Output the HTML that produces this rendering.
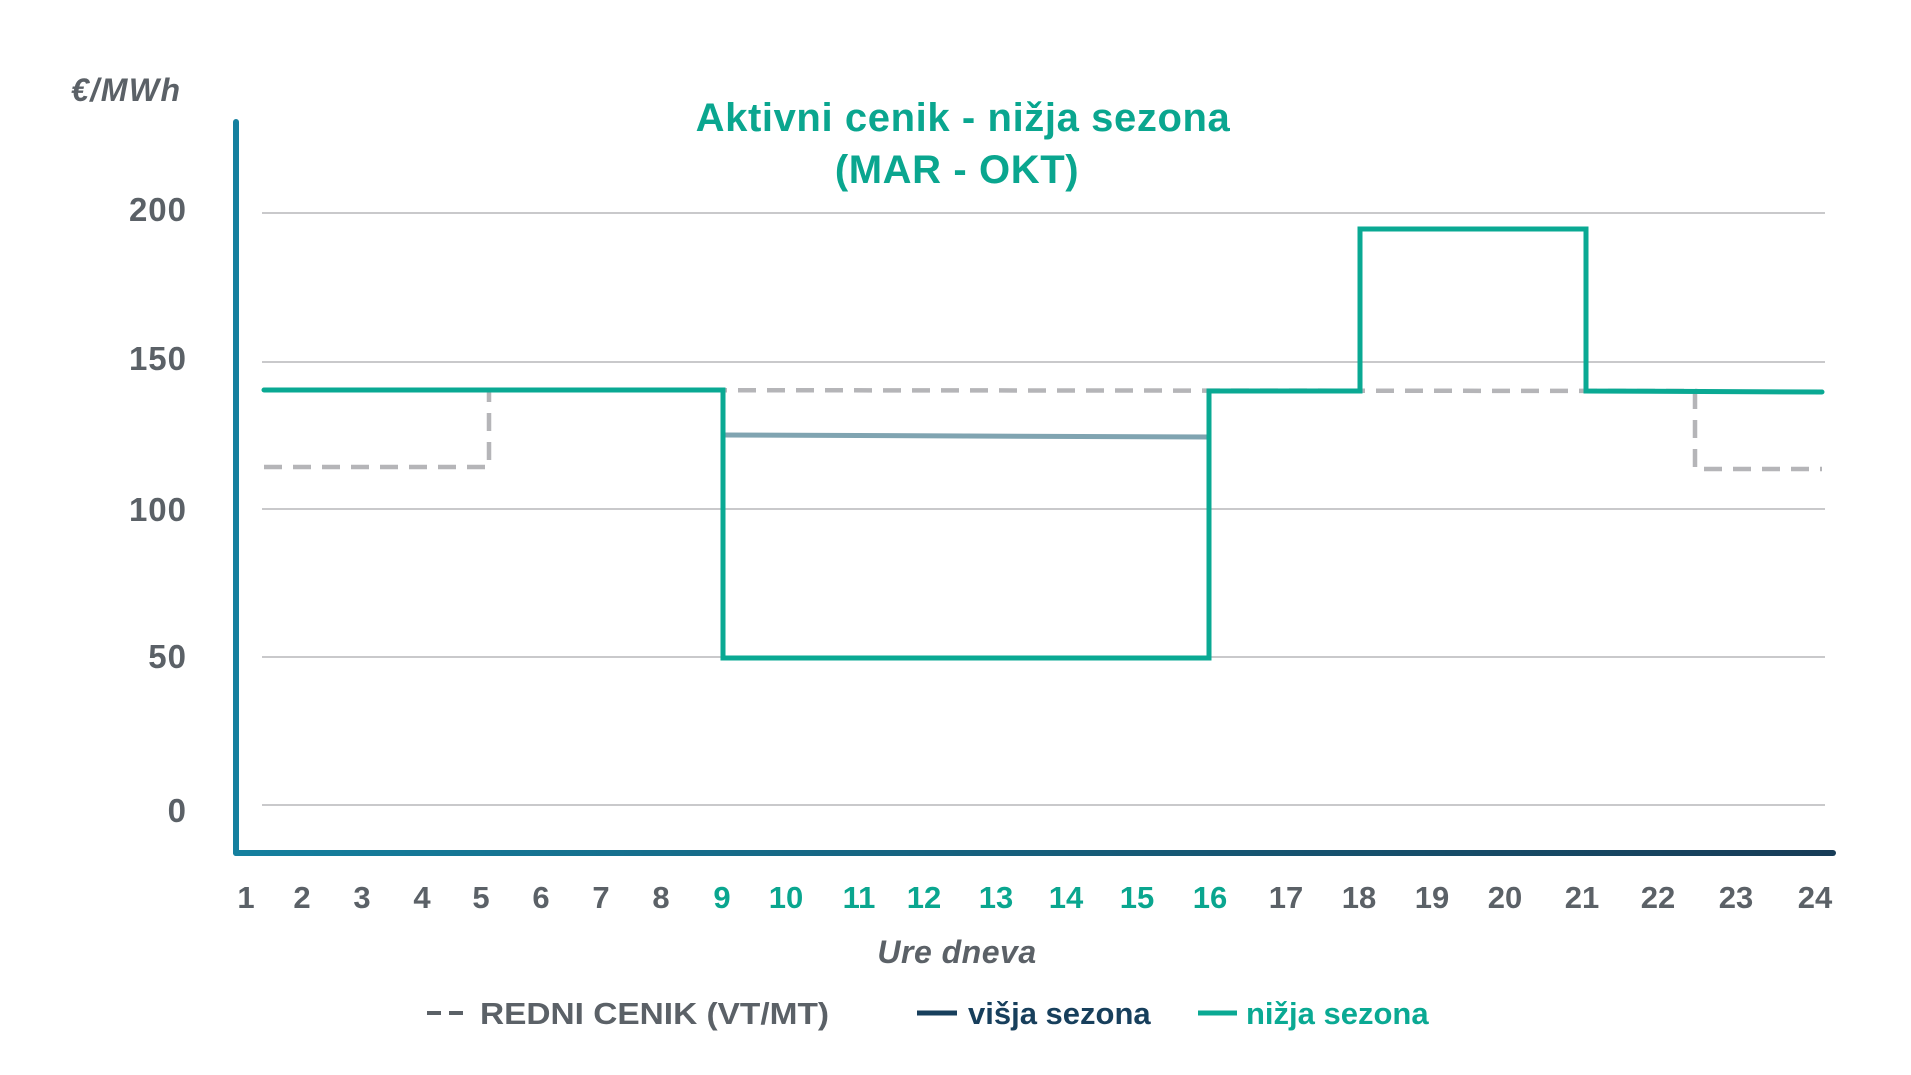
<!DOCTYPE html>
<html><head><meta charset="utf-8"><style>
html,body{margin:0;padding:0;background:#fff;}
svg{display:block;font-family:"Liberation Sans",sans-serif;}
</style></head><body>
<svg width="1911" height="1075" viewBox="0 0 1911 1075" xmlns="http://www.w3.org/2000/svg">
<defs>
<linearGradient id="ax" x1="0" x2="1" y1="0" y2="0">
<stop offset="0" stop-color="#15809f"/><stop offset="1" stop-color="#173c57"/>
</linearGradient>
</defs>
<rect width="1911" height="1075" fill="#fff"/>
<g stroke="#c9c9cb" stroke-width="2">
<line x1="262" y1="213" x2="1825" y2="213"/>
<line x1="262" y1="362" x2="1825" y2="362"/>
<line x1="262" y1="509" x2="1825" y2="509"/>
<line x1="262" y1="657" x2="1825" y2="657"/>
<line x1="262" y1="805" x2="1825" y2="805"/>
</g>
<g font-size="33" font-weight="bold" fill="#5b6167" text-anchor="end" letter-spacing="1">
<text x="187" y="221">200</text>
<text x="187" y="370">150</text>
<text x="187" y="521">100</text>
<text x="187" y="668">50</text>
<text x="187" y="822">0</text>
</g>
<text x="71" y="101" font-size="32" font-weight="bold" font-style="italic" fill="#5b6167" letter-spacing="1.5">€/MWh</text>
<g font-size="40" font-weight="bold" fill="#0aa68f" text-anchor="middle" letter-spacing="0.6">
<text x="963" y="131">Aktivni cenik - nižja sezona</text>
<text x="957" y="183">(MAR - OKT)</text>
</g>
<polyline points="264,467 489,467 489,390 1695,391 1695,469 1822,469" fill="none" stroke="#b5b5b8" stroke-width="4.5" stroke-dasharray="18,11"/>
<line x1="723" y1="435" x2="1209" y2="437" stroke="#80a4b1" stroke-width="5"/>
<polyline points="264,390 723,390 723,658 1209,658 1209,391 1360,391 1360,229 1586,229 1586,391 1822,392" fill="none" stroke="#0aa993" stroke-width="5" stroke-linejoin="miter" stroke-linecap="round"/>
<line x1="236" y1="122" x2="236" y2="853" stroke="#15809f" stroke-width="6" stroke-linecap="round"/>
<rect x="233" y="850" width="1603" height="6" fill="url(#ax)" rx="3"/>
<g font-size="31" font-weight="bold" fill="#5b6167" text-anchor="middle">
<text x="246" y="908">1</text><text x="302" y="908">2</text><text x="362" y="908">3</text><text x="422" y="908">4</text>
<text x="481" y="908">5</text><text x="541" y="908">6</text><text x="601" y="908">7</text><text x="661" y="908">8</text>
<g fill="#0aa68f">
<text x="722" y="908">9</text><text x="786" y="908">10</text><text x="859" y="908">11</text><text x="924" y="908">12</text>
<text x="996" y="908">13</text><text x="1066" y="908">14</text><text x="1137" y="908">15</text><text x="1210" y="908">16</text>
</g>
<text x="1286" y="908">17</text><text x="1359" y="908">18</text><text x="1432" y="908">19</text><text x="1505" y="908">20</text>
<text x="1582" y="908">21</text><text x="1658" y="908">22</text><text x="1736" y="908">23</text><text x="1815" y="908">24</text>
</g>
<text x="957" y="963" font-size="32" font-style="italic" font-weight="bold" fill="#5b6167" text-anchor="middle" letter-spacing="0.5">Ure dneva</text>
<g font-size="31" font-weight="bold">
<line x1="427" y1="1013" x2="467" y2="1013" stroke="#5b6167" stroke-width="4" stroke-dasharray="14,8"/>
<text x="480" y="1024" fill="#5b6167" textLength="349" lengthAdjust="spacingAndGlyphs">REDNI CENIK (VT/MT)</text>
<line x1="917" y1="1013" x2="957" y2="1013" stroke="#173f5c" stroke-width="5"/>
<text x="968" y="1024" fill="#173f5c">višja sezona</text>
<line x1="1198" y1="1013" x2="1237" y2="1013" stroke="#0aa993" stroke-width="5"/>
<text x="1246" y="1024" fill="#0aa993">nižja sezona</text>
</g>
</svg>
</body></html>
